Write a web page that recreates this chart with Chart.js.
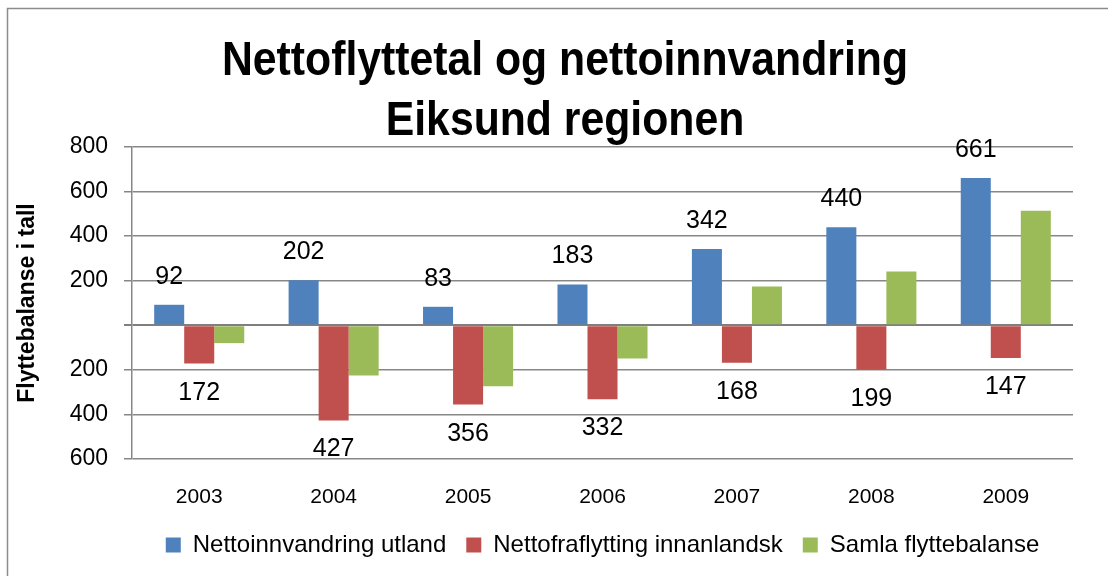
<!DOCTYPE html>
<html>
<head>
<meta charset="utf-8">
<script src="https://cdn.jsdelivr.net/npm/chart.js@4.4.1/dist/chart.umd.min.js"></script>
<style>
  html, body { margin: 0; padding: 0; background: #fff; }
  #wrap { width: 1108px; height: 576px; position: relative; }
</style>
</head>
<body>
<div id="wrap"><canvas id="chart"></canvas></div>
<script>
// Data
const years = ["2003", "2004", "2005", "2006", "2007", "2008", "2009"];
const innvandring = [92, 202, 83, 183, 342, 440, 661];
const fraflytting = [-172, -427, -356, -332, -168, -199, -147];
const samla = [-80, -225, -273, -149, 174, 241, 514];
const seriesNames = ["Nettoinnvandring utland", "Nettofraflytting innanlandsk", "Samla flyttebalanse"];
const titleLines = ["Nettoflyttetal og nettoinnvandring", "Eiksund regionen"];
const yAxisTitle = "Flyttebalanse i tall";

const SANS = "'Liberation Sans', Arial, sans-serif";

// Outer frame + two-line title (condensed look, like the original)
const framePlugin = {
  id: "frame",
  beforeDraw(chart) {
    const ctx = chart.ctx;
    ctx.save();
    ctx.strokeStyle = "#8c8c8c";
    ctx.lineWidth = 1.5;
    ctx.beginPath();
    ctx.moveTo(7.5, 576);
    ctx.lineTo(7.5, 8.5);
    ctx.lineTo(1108, 8.5);
    ctx.stroke();

    ctx.fillStyle = "#000";
    ctx.font = "bold 48px " + SANS;
    ctx.textAlign = "center";
    ctx.textBaseline = "alphabetic";
    const squeeze = 686 / ctx.measureText(titleLines[0]).width;
    ctx.translate(565, 0);
    ctx.scale(squeeze, 1);
    ctx.fillText(titleLines[0], 0, 75);
    ctx.fillText(titleLines[1], 0, 135);
    ctx.restore();
  }
};

// Value labels above the blue bars and below the red bars
const valueLabels = {
  id: "valueLabels",
  afterDatasetsDraw(chart) {
    const ctx = chart.ctx;
    ctx.save();
    ctx.fillStyle = "#000";
    ctx.font = "25px " + SANS;
    ctx.textAlign = "center";
    ctx.textBaseline = "middle";
    [0, 1].forEach((i) => {
      const meta = chart.getDatasetMeta(i);
      const data = chart.data.datasets[i].data;
      meta.data.forEach((bar, j) => {
        const v = data[j];
        const y = v >= 0 ? bar.y - 28 : bar.y + 29;
        ctx.fillText(String(Math.abs(v)), bar.x, y);
      });
    });
    ctx.restore();
  }
};

const ctx = document.getElementById("chart").getContext("2d");
new Chart(ctx, {
  type: "bar",
  data: {
    labels: years,
    datasets: [
      { label: seriesNames[0], data: innvandring, backgroundColor: "#4F81BD" },
      { label: seriesNames[1], data: fraflytting, backgroundColor: "#C0504D" },
      { label: seriesNames[2], data: samla, backgroundColor: "#9BBB59" },
    ],
  },
  options: {
    responsive: true,
    maintainAspectRatio: false,
    animation: false,
    datasets: {
      bar: { categoryPercentage: 0.67, barPercentage: 1.0 },
    },
    layout: { padding: { top: 147, left: 8, right: 35, bottom: 9 } },
    plugins: {
      title: { display: false },
      tooltip: { enabled: false },
      legend: {
        position: "bottom",
        fullSize: false,
        labels: {
          font: { family: SANS, size: 24 },
          color: "#000",
          boxWidth: 15,
          boxHeight: 15,
          padding: 20,
        },
      },
    },
    scales: {
      x: {
        grid: { display: false, drawTicks: false },
        border: { display: false },
        ticks: { font: { family: SANS, size: 21 }, color: "#000", padding: 26 },
        afterFit(scale) { scale.height = 54; },
      },
      y: {
        min: -600,
        max: 800,
        ticks: {
          stepSize: 200,
          font: { family: SANS, size: 23 },
          color: "#000",
          padding: 16,
          callback: (v) => (v === 0 ? "" : Math.abs(v)),
        },
        grid: {
          color: (c) => (c.tick && c.tick.value === 0 ? "#7f7f7f" : "#878787"),
          lineWidth: (c) => (c.tick && c.tick.value === 0 ? 2 : 1.5),
          tickLength: 8,
        },
        border: { display: true, color: "#878787", width: 1.5 },
        title: {
          display: true,
          text: yAxisTitle,
          font: { family: SANS, size: 23, weight: "bold" },
          color: "#000",
          padding: { top: 6, bottom: 0 },
        },
        afterFit(scale) { scale.width = 124; },
      },
    },
  },
  plugins: [framePlugin, valueLabels],
});
</script>
</body>
</html>
